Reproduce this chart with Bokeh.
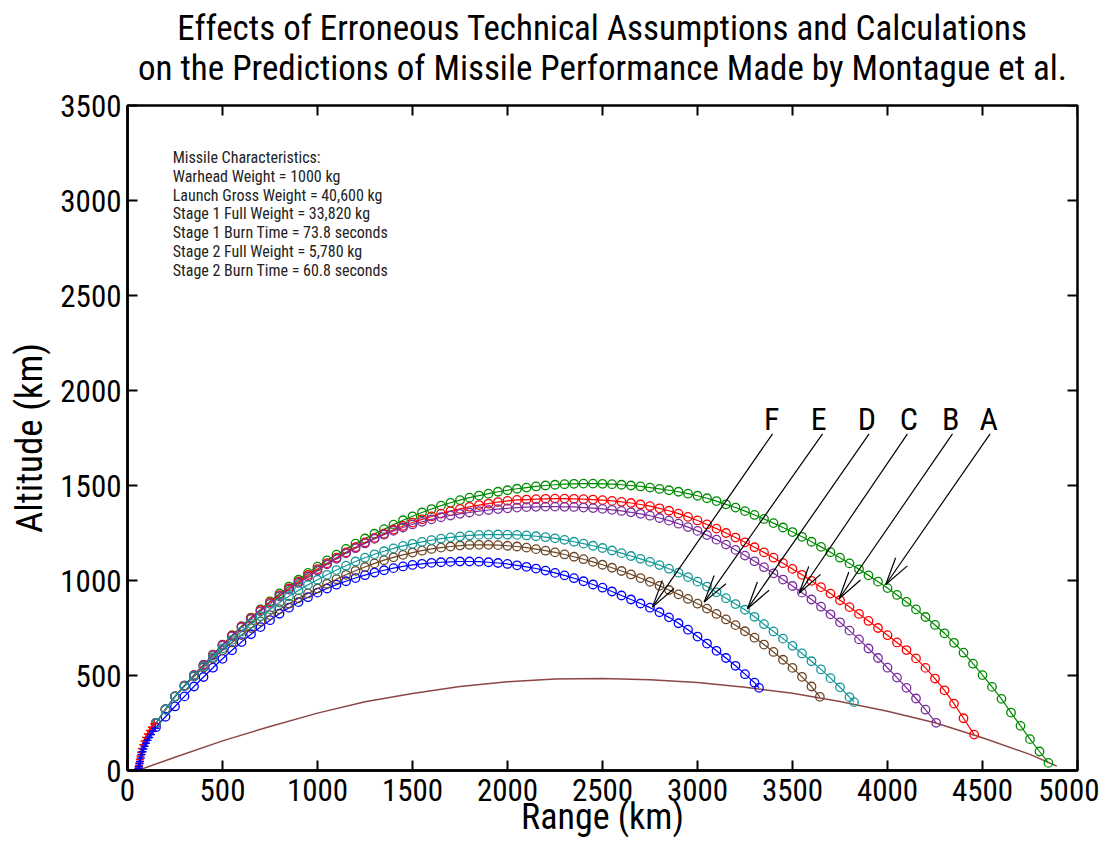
import math
from bokeh.plotting import figure
from bokeh.models import Range1d, FixedTicker, Title
from bokeh.core.properties import value
from bokeh.embed import file_html
from bokeh.resources import INLINE

# ---------------- data ----------------
x_ticks = [0, 500, 1000, 1500, 2000, 2500, 3000, 3500, 4000, 4500, 5000]
y_ticks = [0, 500, 1000, 1500, 2000, 2500, 3000, 3500]

# trajectories: altitude (km) sampled every 50 km of range from 150 km, plus the end point
grid_start = 150
grid_step = 50

green_y = [250, 322, 390, 447, 502, 556, 610, 662, 712, 760,
           805, 848, 890, 932, 968, 1004, 1040, 1073, 1106, 1136,
           1166, 1194, 1221, 1246, 1270, 1294, 1317, 1338, 1358, 1376,
           1394, 1409, 1423, 1436, 1447, 1457, 1467, 1475, 1483, 1489,
           1495, 1500, 1504, 1507, 1509, 1510, 1510, 1509, 1507, 1504,
           1500, 1495, 1489, 1482, 1475, 1467, 1457, 1446, 1433, 1418,
           1401, 1384, 1365, 1345, 1324, 1302, 1279, 1255, 1230, 1204,
           1177, 1149, 1120, 1090, 1059, 1027, 994, 960, 924, 887,
           848, 808, 766, 722, 672, 620, 562, 502, 440, 377,
           305, 235, 165, 100, 40]
green_end = 4847

red_y = [250, 322, 390, 447, 502, 556, 609, 661, 710, 757,
         802, 844, 885, 923, 958, 994, 1029, 1060, 1091, 1120,
         1148, 1175, 1200, 1224, 1246, 1267, 1287, 1305, 1322, 1337,
         1352, 1365, 1377, 1388, 1397, 1405, 1413, 1419, 1424, 1426,
         1428, 1430, 1431, 1431, 1430, 1428, 1426, 1423, 1419, 1414,
         1408, 1400, 1391, 1380, 1367, 1352, 1335, 1316, 1295, 1273,
         1250, 1226, 1201, 1175, 1148, 1120, 1091, 1061, 1030, 998,
         965, 931, 896, 860, 824, 787, 750, 712, 674, 634,
         590, 540, 484, 422, 352, 275, 189]
red_end = 4456

purple_y = [250, 322, 390, 447, 501, 554, 607, 658, 706, 753,
            797, 838, 877, 917, 952, 987, 1020, 1053, 1085, 1114,
            1143, 1170, 1195, 1219, 1241, 1261, 1279, 1295, 1309, 1322,
            1333, 1342, 1351, 1358, 1365, 1371, 1376, 1380, 1384, 1386,
            1388, 1389, 1389, 1388, 1387, 1384, 1381, 1377, 1372, 1366,
            1359, 1351, 1341, 1329, 1315, 1299, 1281, 1261, 1239, 1215,
            1189, 1161, 1131, 1101, 1070, 1038, 1005, 971, 936, 900,
            862, 822, 780, 736, 690, 642, 592, 541, 489, 435,
            379, 320, 251]
purple_end = 4256

cyan_y = [250, 321, 389, 444, 497, 547, 596, 643, 688, 731,
          772, 812, 849, 884, 917, 948, 977, 1004, 1030, 1055,
          1078, 1100, 1120, 1138, 1154, 1169, 1182, 1193, 1203, 1212,
          1220, 1227, 1232, 1237, 1240, 1241, 1242, 1241, 1240, 1237,
          1233, 1228, 1222, 1214, 1204, 1194, 1183, 1171, 1158, 1144,
          1129, 1114, 1098, 1081, 1062, 1041, 1018, 994, 968, 938,
          907, 876, 846, 809, 770, 732, 694, 656, 616, 575,
          532, 486, 438, 386, 360]
cyan_end = 3824

brown_y = [250, 321, 389, 443, 494, 542, 589, 633, 674, 713,
           750, 785, 818, 849, 878, 906, 932, 958, 983, 1007,
           1030, 1051, 1071, 1090, 1107, 1122, 1135, 1147, 1157, 1166,
           1173, 1179, 1184, 1187, 1188, 1188, 1186, 1183, 1179, 1173,
           1165, 1157, 1148, 1137, 1125, 1112, 1098, 1083, 1067, 1050,
           1032, 1013, 993, 972, 950, 927, 903, 878, 852, 824,
           795, 765, 733, 699, 663, 624, 583, 540, 493, 442,
           388]
brown_end = 3644

blue_y = [228, 283, 337, 390, 442, 492, 541, 588, 633, 676,
          717, 755, 791, 825, 857, 886, 912, 936, 958, 978,
          996, 1013, 1028, 1042, 1054, 1065, 1074, 1082, 1088, 1093,
          1096, 1098, 1100, 1100, 1099, 1096, 1092, 1087, 1080, 1072,
          1063, 1052, 1040, 1027, 1012, 996, 979, 962, 942, 921,
          900, 879, 857, 833, 806, 775, 741, 705, 668, 630,
          592, 551, 507, 462, 435]
blue_end = 3324

# boost phase (plus markers)
boost_red_x = [57, 58, 60, 62, 65, 68, 72, 77, 83, 90, 98, 107, 117, 128, 140]
boost_red_y = [0, 12, 25, 40, 58, 76, 96, 116, 136, 155, 174, 192, 210, 228, 246]
boost_blue_x = [56, 58, 60, 63, 66, 70, 74, 79, 84, 90, 97, 105, 114, 124, 134, 146]
boost_blue_y = [0, 10, 20, 35, 48, 66, 84, 99, 113, 128, 144, 159, 174, 190, 206, 222]

# earth-surface line
earth_x = [53, 250, 500, 750, 1000, 1250, 1500, 1750, 2000, 2250, 2500,
           2750, 3000, 3250, 3500, 3750, 4000, 4250, 4500, 4750, 4891]
earth_y = [0, 70, 156, 232, 302, 362, 405, 442, 467, 481, 484,
           478, 463, 438, 406, 363, 312, 251, 172, 85, 23]

# arrow annotations
arrow_labels = ["F", "E", "D", "C", "B", "A"]
label_x = [3391, 3638, 3891, 4112, 4333, 4533]
label_y = [1850, 1850, 1850, 1850, 1850, 1850]
tail_x = [3395, 3658, 3903, 4105, 4342, 4540]
tail_y = [1772, 1772, 1772, 1772, 1772, 1772]
tip_x = [2763, 3035, 3263, 3535, 3745, 3991]
tip_y = [860, 886, 851, 933, 904, 979]

info_lines = ["Missile Characteristics:",
              "Warhead Weight = 1000 kg",
              "Launch Gross Weight = 40,600 kg",
              "Stage 1 Full Weight = 33,820 kg",
              "Stage 1 Burn Time = 73.8 seconds",
              "Stage 2 Full Weight = 5,780 kg",
              "Stage 2 Burn Time = 60.8 seconds"]

title_lines = ["Effects of Erroneous Technical Assumptions and Calculations",
               "on the Predictions of Missile Performance Made by Montague et al."]
x_label = "Range (km)"
y_label = "Altitude (km)"

# ---------------- styling ----------------
NARROW = ("'Liberation Sans Narrow', 'Roboto Condensed', 'DejaVu Sans Condensed', "
          "'Liberation Sans', sans-serif")

FRAME_W, FRAME_H = 950, 665
p = figure(width=1099, height=842,
           x_range=Range1d(0, 5000), y_range=Range1d(0, 3500),
           output_backend="svg", toolbar_location=None, title=None,
           min_border_left=127, min_border_right=22,
           min_border_top=105, min_border_bottom=72)

# two-line title: the second line sits next to the frame, the first above it
t2 = Title(text=title_lines[1], align="center", text_font=NARROW,
           text_font_size="35px", text_font_style="normal",
           text_color="black", standoff=34)
t1 = Title(text=title_lines[0], align="center", text_font=NARROW,
           text_font_size="35px", text_font_style="normal",
           text_color="black", standoff=-41)
p.add_layout(t2, "above")
p.add_layout(t1, "above")

p.xgrid.visible = False
p.ygrid.visible = False
p.outline_line_color = "black"
p.outline_line_width = 2.5
p.outline_line_alpha = 1.0

def style_axis(ax):
    ax.major_tick_in = 10
    ax.major_tick_out = 0
    ax.minor_tick_line_color = None
    ax.axis_line_width = 2.5
    ax.major_tick_line_width = 2
    ax.major_tick_line_color = "black"
    ax.axis_line_color = "black"
    ax.major_label_text_font = NARROW
    ax.major_label_text_font_size = "31px"
    ax.major_label_text_color = "black"
    ax.axis_label_text_font = NARROW
    ax.axis_label_text_font_style = "normal"
    ax.axis_label_text_color = "black"

xa = p.xaxis[0]
xa.ticker = FixedTicker(ticks=x_ticks)
style_axis(xa)
xa.axis_label = x_label
xa.axis_label_text_font_size = "36px"
xa.major_label_standoff = 8
xa.axis_label_standoff = -8

ya = p.yaxis[0]
ya.ticker = FixedTicker(ticks=y_ticks)
style_axis(ya)
ya.axis_label = y_label
ya.axis_label_text_font_size = "37px"
ya.major_label_standoff = 6
ya.axis_label_standoff = 6

# inward ticks on the top and right edges of the box
kx = 5000 / FRAME_W
ky = 3500 / FRAME_H
tick_px = 10
p.segment(x_ticks, [3500] * len(x_ticks), x_ticks, [3500 - tick_px * ky] * len(x_ticks),
          line_color="black", line_width=2)
p.segment([5000] * len(y_ticks), y_ticks, [5000 - tick_px * kx] * len(y_ticks), y_ticks,
          line_color="black", line_width=2)

# ---------------- marks ----------------
p.line(earth_x, earth_y, line_color="#8c4646", line_width=1.5)

def grid_x(ys, end):
    return [grid_start + grid_step * i for i in range(len(ys) - 1)] + [end]

series = [
    (green_y, green_end, "#008a00"),
    (red_y, red_end, "#ff0000"),
    (blue_y, blue_end, "#0000ff"),
    (brown_y, brown_end, "#6b4526"),
    (purple_y, purple_end, "#7a2e9e"),
    (cyan_y, cyan_end, "#159898"),
]
for ys, end, col in series:
    xs = grid_x(ys, end)
    p.line(xs, ys, line_color=col, line_width=1.2)
    p.scatter(xs, ys, marker="circle", size=8.5, fill_color=None,
              line_color=col, line_width=1.3)

p.line(boost_red_x, boost_red_y, line_color="#ff0000", line_width=1.2)
p.scatter(boost_red_x, boost_red_y, marker="cross", size=8,
          line_color="#ff0000", line_width=1.5)
p.line(boost_blue_x, boost_blue_y, line_color="#0000ff", line_width=1.2)
p.scatter(boost_blue_x, boost_blue_y, marker="cross", size=8,
          line_color="#0000ff", line_width=1.5)

# arrows with narrow open heads
head_len = 150.0
head_ang = math.radians(14.5)
hx0, hy0, hx1, hy1 = [], [], [], []
for tx, ty, sx, sy in zip(tip_x, tip_y, tail_x, tail_y):
    dx, dy = sx - tx, sy - ty
    L = math.hypot(dx, dy)
    ux, uy = dx / L, dy / L
    for s in (1, -1):
        c, sn = math.cos(s * head_ang), math.sin(s * head_ang)
        rx, ry = ux * c - uy * sn, ux * sn + uy * c
        hx0.append(tx); hy0.append(ty)
        hx1.append(tx + head_len * rx); hy1.append(ty + head_len * ry)

p.segment(tail_x, tail_y, tip_x, tip_y, line_color="black", line_width=1.2)
p.segment(hx0, hy0, hx1, hy1, line_color="black", line_width=1.2)

p.text(label_x, label_y, text=arrow_labels, text_font=value(NARROW),
       text_font_size="32px", text_align="center", text_baseline="middle",
       text_color="black")

info_x = 238
info_top = 3226
info_step = 99
p.text([info_x] * len(info_lines),
       [info_top - info_step * i for i in range(len(info_lines))],
       text=info_lines, text_font=value(NARROW), text_font_size="16px",
       text_align="left", text_baseline="middle", text_color="#222222")

open("out.html", "w").write(file_html(p, INLINE))
